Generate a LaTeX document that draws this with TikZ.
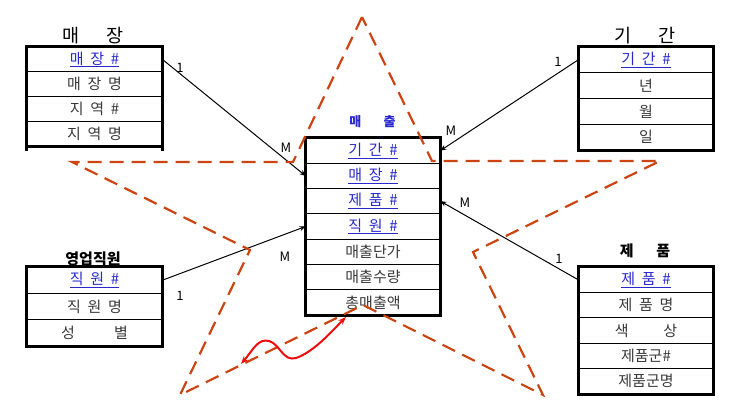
\documentclass[tikz,border=0pt]{standalone}
\usepackage{fontspec}
\setmainfont{Noto Sans CJK KR}
\usetikzlibrary{arrows.meta}
\definecolor{starred}{RGB}{204,68,17}
\definecolor{keyblue}{RGB}{40,40,205}
\definecolor{wavered}{RGB}{240,12,12}
\newcommand{\gapk}{\hspace{0.45em}}

\begin{document}
\begin{tikzpicture}[x=1pt,y=-1pt,
        fld/.style={draw, line width=0.8pt, minimum width=135pt, minimum height=#1, inner sep=0pt,
            font=\fontsize{15}{16}\selectfont, text=black!78},
        fld/.default=25.3pt,
        keyfld/.style={fld=#1, text=keyblue},
        keyfld/.default=25.3pt,
        border/.style={line width=3pt},
        ttl/.style={font=\fontsize{15}{17}\selectfont\bfseries},
        bigttl/.style={font=\fontsize{18.5}{20}\selectfont},
        card/.style={font=\fontsize{13}{15}\selectfont, inner sep=1pt},
        rel/.style={line width=1pt, -{Stealth[length=6pt,width=5pt]}},
        star/.style={starred, line width=2.2pt, dash pattern=on 14pt off 8pt},
    ]
    \useasboundingbox (0,0) rectangle (750,414);

    % 매장
    \node[bigttl] (stT) at (93,36) {매\hspace{1.5em}장};
    \node[keyfld=24.75pt] (st1) at (94.5,59.4)  {\underline{매\gapk 장\gapk \#}};
    \node[fld=24.75pt]    (st2) at (94.5,84.1)  {매\gapk 장\gapk 명};
    \node[fld=24.75pt]    (st3) at (94.5,108.9) {지\gapk 역\gapk \#};
    \node[fld=24.75pt]    (st4) at (94.5,133.6) {지\gapk 역\gapk 명};
    \draw[border] (st1.north west) rectangle (st4.south east);
    \draw[border] (st4.south west) -- ++(0,5);
    \draw[border] (st4.south east) -- ++(0,5);

    % 기간
    \node[bigttl] (peT) at (645,36) {기\hspace{1.5em}간};
    \node[keyfld=25.75pt] (pe1) at (646,59.9)  {\underline{기\gapk 간\gapk \#}};
    \node[fld=25.75pt]    (pe2) at (646,85.6)  {년};
    \node[fld=25.75pt]    (pe3) at (646,111.4) {월};
    \node[fld=25.75pt]    (pe4) at (646,137.1) {일};
    \draw[border] (pe1.north west) rectangle (pe4.south east);

    % 매출
    \node[ttl, text=keyblue, font=\fontsize{13}{15}\selectfont\bfseries] (saT) at (372.5,122) {매\hspace{1.7em}출};
    \node[keyfld, minimum width=134pt] (sa1) at (373,150.6) {\underline{기\gapk 간\gapk \#}};
    \node[keyfld, minimum width=134pt] (sa2) at (373,175.9) {\underline{매\gapk 장\gapk \#}};
    \node[keyfld, minimum width=134pt] (sa3) at (373,201.2) {\underline{제\gapk 품\gapk \#}};
    \node[keyfld, minimum width=134pt] (sa4) at (373,226.5) {\underline{직\gapk 원\gapk \#}};
    \node[fld, minimum width=134pt]    (sa5) at (373,251.8) {매출단가};
    \node[fld, minimum width=134pt]    (sa6) at (373,277.1) {매출수량};
    \node[fld, minimum width=134pt]    (sa7) at (373,302.4) {총매출액};
    \draw[border] (sa1.north west) rectangle (sa7.south east);

    % 영업직원
    \node[ttl] (emT) at (93,259) {영업직원};
    \node[keyfld=26.3pt] (em1) at (94.5,280.2) {\underline{직\gapk 원\gapk \#}};
    \node[fld=26.3pt]    (em2) at (94.5,306.5) {직\gapk 원\gapk 명};
    \node[fld=26.3pt]    (em3) at (94.5,332.8) {성\hspace{2.6em}별};
    \draw[border] (em1.north west) rectangle (em3.south east);

    % 제품
    \node[ttl] (prT) at (645,251) {제\hspace{1.5em}품};
    \node[keyfld=25.4pt] (pr1) at (646,279.7) {\underline{제\gapk 품\gapk \#}};
    \node[fld=25.4pt]    (pr2) at (646,305.1) {제\gapk 품\gapk 명};
    \node[fld=25.4pt]    (pr3) at (646,330.5) {색\hspace{2.3em}상};
    \node[fld=25.4pt]    (pr4) at (646,355.9) {제품군\#};
    \node[fld=25.4pt]    (pr5) at (646,381.3) {제품군명};
    \draw[border] (pr1.north west) rectangle (pr5.south east);

    % 관계
    \draw[rel] (st1.east) -- (sa2.west);
    \draw[rel] (pe1.west) -- (sa1.east);
    \draw[rel] (em1.east) -- (sa4.west);
    \draw[rel] (pr1.west) -- (sa3.east);
    \node[card] (c1) at (180,68)  {1};
    \node[card] (c2) at (286,148) {M};
    \node[card] (c3) at (558,62)  {1};
    \node[card] (c4) at (451,131) {M};
    \node[card] (c5) at (180,296) {1};
    \node[card] (c6) at (285,257) {M};
    \node[card] (c7) at (465,203) {M};
    \node[card] (c8) at (559,259) {1};

    % 별
    \draw[star] (362,17) -- (293,162) -- (72,162) -- (250,250) -- (180,395) -- (363,305)
        -- (543,395) -- (473,252) -- (660,161) -- (432,161) -- cycle;

    % 곡선 화살표
    \draw[wavered, line width=2pt, {Stealth[length=8pt,width=6pt]}-{Stealth[length=8pt,width=6pt]}]
        (241,364) .. controls (253,350) and (258,338) .. (269,341)
        .. controls (280,344) and (283,362) .. (296,358)
        .. controls (314,352) and (333,330) .. (346,317);
\end{tikzpicture}
\end{document}
